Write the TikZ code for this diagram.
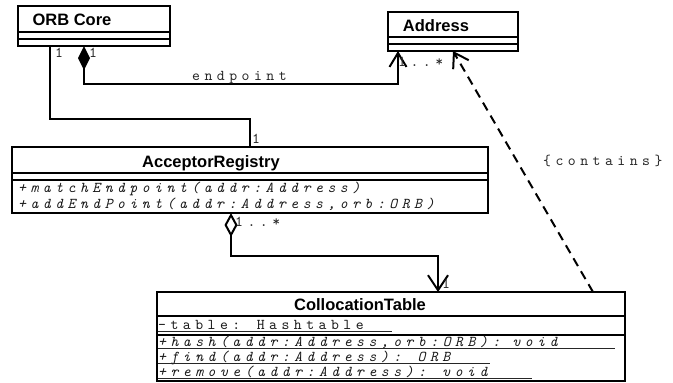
\documentclass[tikz,border=0pt]{standalone}
\usepackage{fontspec}
\setmainfont{Liberation Sans}
\usetikzlibrary{arrows.meta}

% letter-spaced typewriter face for members and labels
\newfontfamily\umlmono{lmmono10-regular.otf}[ItalicFont=lmmono10-italic.otf, LetterSpace=30]
\newcommand{\umltt}{\umlmono\fontsize{15}{17}\selectfont}

\tikzset{
  classbox/.style={draw, line width=2pt, anchor=north west, inner sep=0pt, outer sep=0pt},
  sepline/.style={line width=2pt},
  classtitle/.style={font=\bfseries\fontsize{16.5}{18}\selectfont, anchor=base, inner sep=0pt},
  member/.style={font=\umltt\itshape, anchor=base west, inner sep=0pt, text=black!90},
  attribute/.style={font=\umltt, anchor=base west, inner sep=0pt, text=black!90},
  rolelabel/.style={font=\umltt, anchor=base west, inner sep=0pt, text=black!85},
  uline/.style={line width=1pt, black!85},
  conn/.style={line width=2pt},
  opentip/.style={-{Straight Barb[length=14pt,width=18pt]}},
}

\begin{document}
\begin{tikzpicture}[x=1pt, y=-1pt]
  \useasboundingbox (0,0) rectangle (673,383);

  % class boxes
  \node[classbox, minimum width=152pt, minimum height=40pt] (orb) at (18,6) {};
  \node[classbox, minimum width=130pt, minimum height=39pt] (addr) at (388,12) {};
  \node[classbox, minimum width=476pt, minimum height=66pt] (acc) at (12,147) {};
  \node[classbox, minimum width=468pt, minimum height=89pt] (coll) at (157,292) {};

  % compartment separators
  \draw[sepline] (orb.west |- 0,32) -- (orb.east |- 0,32);
  \draw[sepline] (orb.west |- 0,39) -- (orb.east |- 0,39);
  \draw[sepline] (addr.west |- 0,37) -- (addr.east |- 0,37);
  \draw[sepline] (addr.west |- 0,44) -- (addr.east |- 0,44);
  \draw[sepline] (acc.west |- 0,173) -- (acc.east |- 0,173);
  \draw[sepline] (acc.west |- 0,180) -- (acc.east |- 0,180);
  \draw[sepline] (coll.west |- 0,316) -- (coll.east |- 0,316);
  \draw[sepline] (coll.west |- 0,335) -- (coll.east |- 0,335);

  % class names
  \node[classtitle] (orbT) at (72,25) {ORB Core};
  \node[classtitle] (addrT) at (436,31) {Address};
  \node[classtitle] (accT) at (211,167) {AcceptorRegistry};
  \node[classtitle] (collT) at (360,310) {CollocationTable};

  % AcceptorRegistry operations
  \node[member] (m1) at (18,192) {+matchEndpoint(addr:Address)};
  \node[member] (m2) at (18,208) {+addEndPoint(addr:Address,orb:ORB)};

  % CollocationTable members (static, underlined)
  \node[attribute] (attr) at (158,329) {-table: Hashtable};
  \node[member] (c1) at (158,346) {+hash(addr:Address,orb:ORB): void};
  \node[member] (c2) at (158,361) {+find(addr:Address): ORB};
  \node[member] (c3) at (158,376) {+remove(addr:Address): void};
  \draw[uline] ([yshift=-2.5pt]attr.base west) -- ++(234,0);
  \draw[uline] ([yshift=-2.5pt]c1.base west) -- ++(457,0);
  \draw[uline] ([yshift=-2.5pt]c2.base west) -- ++(332,0);
  \draw[uline] ([yshift=-2.5pt]c3.base west) -- ++(374,0);

  % connector end points
  \coordinate (orbL) at (orb.south -| 50,0);
  \coordinate (orbR) at (orb.south -| 84,0);
  \coordinate (addrB) at (addr.south -| 398,0);
  \coordinate (addrD) at (addr.south -| 453,0);
  \coordinate (accTop) at (acc.north -| 250,0);
  \coordinate (accB) at (acc.south -| 231,0);
  \coordinate (collTop) at (coll.north -| 438,0);
  \coordinate (collD) at (coll.north -| 593,0);

  % ORB Core -- AcceptorRegistry
  \draw[conn] (orbL) -- (orbL |- 0,119) -| (accTop);

  % ORB Core <>-> Address (endpoint)
  \draw[conn, {Diamond[length=24pt,width=12pt]}-{Straight Barb[length=14pt,width=17pt]}]
    (orbR) -- (orbR |- 0,84) -| (addrB);

  % AcceptorRegistry <>-> CollocationTable
  \draw[conn, {Diamond[open,length=24pt,width=13pt]}-{Straight Barb[length=15pt,width=20pt]}]
    (accB) -- (accB |- 0,256) -| (collTop);

  % CollocationTable ..> Address {contains}
  \draw[conn, dash pattern=on 9pt off 6pt, opentip] (collD) -- (addrD);

  % multiplicities and role labels
  \node[rolelabel] (lA) at (55,57) {1};
  \node[rolelabel] (lB) at (89,57) {1};
  \node[rolelabel] (lC) at (398,66) {1..*};
  \node[rolelabel] (lD) at (192,80) {endpoint};
  \node[rolelabel] (lE) at (252,143) {1};
  \node[rolelabel] (lF) at (543,165) {\{contains\}};
  \node[rolelabel] (lG) at (235,226) {1..*};
  \node[rolelabel] (lH) at (442,288) {1};
\end{tikzpicture}
\end{document}
